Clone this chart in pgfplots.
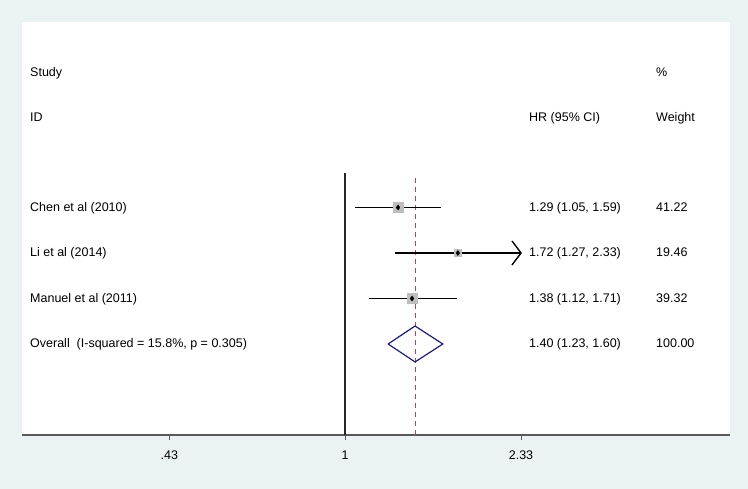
\documentclass[border=0pt]{standalone}
\usepackage{pgfplots}
\pgfplotsset{compat=1.18}
\usepackage{fontspec}
\setmainfont{Liberation Sans}
\definecolor{bgc}{RGB}{234,242,243}
\definecolor{sqgray}{RGB}{190,190,190}
\definecolor{refred}{RGB}{190,65,80}
\definecolor{dnavy}{RGB}{30,30,110}
\begin{document}
\begin{tikzpicture}[font=\fontsize{12.5}{14}\selectfont, txt/.style={anchor=mid west, inner sep=0pt, yshift=-1.2pt}]
% outer background, 748 x 489
\fill[bgc] (-22pt,-54pt) rectangle (726pt,435pt);
\begin{axis}[
  scale only axis,
  width=708pt, height=413pt,
  at={(0pt,0pt)}, anchor=south west,
  xmode=log,
  xmin=0.2117, xmax=6.362,
  ymin=0, ymax=9.077,
  axis background/.style={fill=white},
  axis x line*=bottom,
  axis y line=none,
  axis line style={draw=black!65, line width=1.4pt},
  xtick={0.43,1,2.33},
  xticklabels={.43,1,2.33},
  xtick align=outside,
  major tick length=5pt,
  xtick style={draw=black!65, line width=1pt},
  xticklabel style={yshift=-7pt},
  /pgf/number format/assume math mode=true,
  clip=false,
]
% null line at 1 and overall estimate
\addplot[color=black!85, line width=1.3pt] coordinates {(1,0) (1,5.765)};
\addplot[color=refred, line width=0.95pt, dash pattern=on 5pt off 4pt] coordinates {(1.40,0) (1.40,5.70)};

% confidence intervals
\addplot[color=black, line width=1.4pt] coordinates {(1.05,5) (1.59,5)};
\addplot[color=black, line width=1.4pt] coordinates {(1.27,4) (2.33,4)};
\addplot[color=black, line width=1.4pt] coordinates {(2.231,4.264) (2.33,4) (2.231,3.736)};
\addplot[color=black, line width=1.4pt] coordinates {(1.12,3) (1.71,3)};

% weight boxes
\addplot[color=sqgray, only marks, mark=square*, mark size=5pt] coordinates {(1.29,5)};
\addplot[color=sqgray, only marks, mark=square*, mark size=3.45pt] coordinates {(1.72,4)};
\addplot[color=sqgray, only marks, mark=square*, mark size=4.9pt] coordinates {(1.38,3)};

% point estimates
\addplot[color=black, only marks, mark=diamond*, mark size=2.5pt] coordinates {(1.29,5) (1.72,4) (1.38,3)};

% overall diamond
\addplot[color=dnavy, line width=1.2pt, line join=miter] coordinates {(1.23,2) (1.40,2.395) (1.60,2) (1.40,1.605) (1.23,2)};

% text columns
\node[txt] at (axis description cs:0.0113,0.8765) {Study};
\node[txt] at (axis description cs:0.0113,0.7676) {ID};
\node[txt] at (axis description cs:0.7161,0.7676) {HR (95\% CI)};
\node[txt] at (axis description cs:0.8955,0.8765) {\%};
\node[txt] at (axis description cs:0.8955,0.7676) {Weight};

\node[txt] at (axis description cs:0.0113,0.5508) {Chen et al (2010)};
\node[txt] at (axis description cs:0.0113,0.4407) {Li et al (2014)};
\node[txt] at (axis description cs:0.0113,0.3305) {Manuel et al (2011)};
\node[txt] at (axis description cs:0.0113,0.2203) {Overall\ \ (I-squared = 15.8\%, p = 0.305)};

\node[txt] at (axis description cs:0.7161,0.5508) {1.29 (1.05, 1.59)};
\node[txt] at (axis description cs:0.7161,0.4407) {1.72 (1.27, 2.33)};
\node[txt] at (axis description cs:0.7161,0.3305) {1.38 (1.12, 1.71)};
\node[txt] at (axis description cs:0.7161,0.2203) {1.40 (1.23, 1.60)};

\node[txt] at (axis description cs:0.8955,0.5508) {41.22};
\node[txt] at (axis description cs:0.8955,0.4407) {19.46};
\node[txt] at (axis description cs:0.8955,0.3305) {39.32};
\node[txt] at (axis description cs:0.8955,0.2203) {100.00};
\end{axis}
\end{tikzpicture}
\end{document}
